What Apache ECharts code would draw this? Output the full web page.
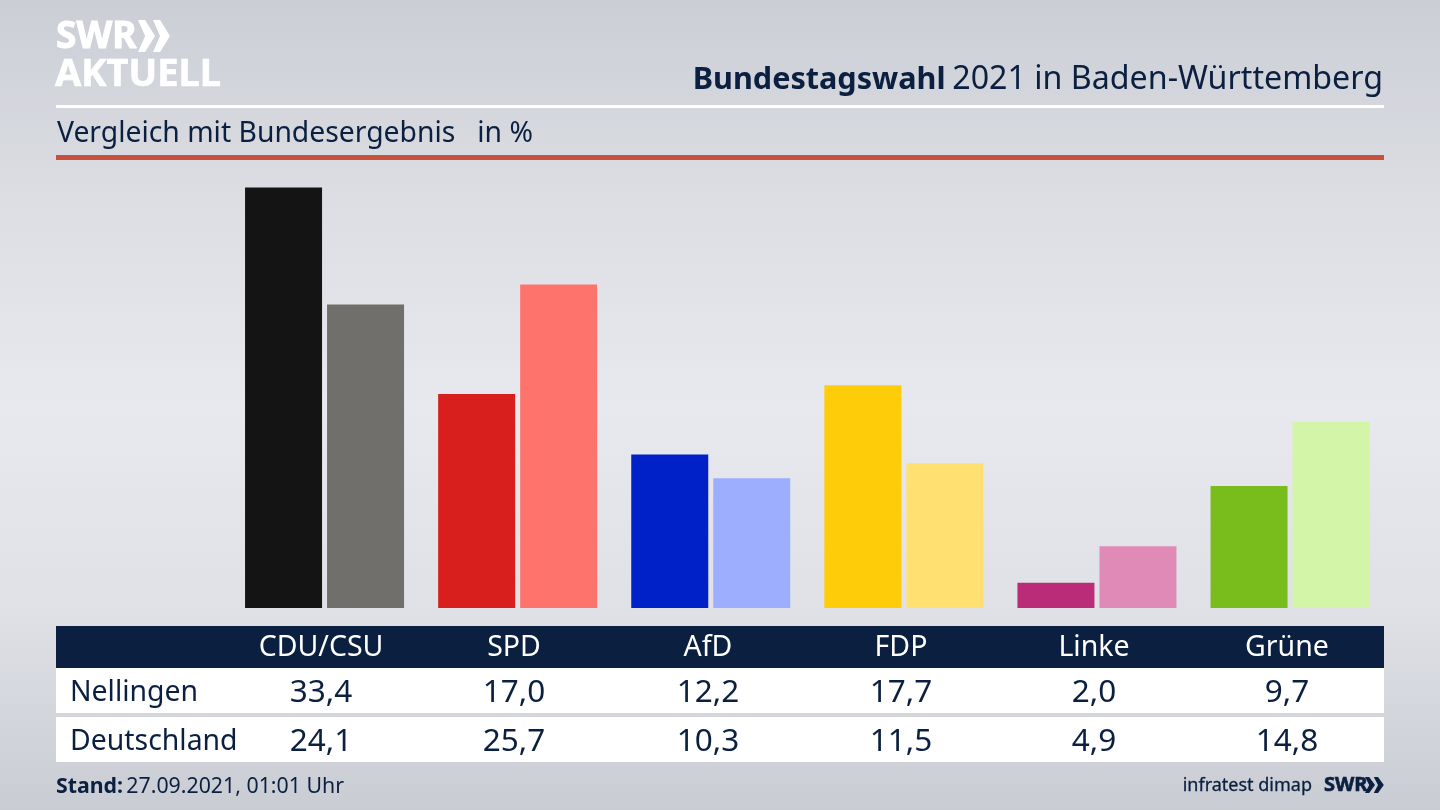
<!DOCTYPE html>
<html>
<head>
<meta charset="utf-8">
<style>html,body{margin:0;padding:0;background:#d8dae0}#main{width:1440px;height:810px}</style>
<script src="https://cdn.jsdelivr.net/npm/echarts@6/dist/echarts.min.js"></script>
</head>
<body>
<div id="main"></div>
<script>
const parties = ['CDU/CSU', 'SPD', 'AfD', 'FDP', 'Linke', 'Grüne'];
const nellingen = [33.4, 17.0, 12.2, 17.7, 2.0, 9.7];
const deutschland = [24.1, 25.7, 10.3, 11.5, 4.9, 14.8];
const rowNames = ['Nellingen', 'Deutschland'];
const darkColors = ['#141414', '#d81f1d', '#0020c8', '#ffcc0a', '#bb2c78', '#79bd1c'];
const lightColors = ['#706f6b', '#ff736d', '#9eaeff', '#ffe071', '#e08ab8', '#d2f5a8'];

const navy = '#0b2040';
const font = '"Noto Sans", sans-serif';
const colX = [321, 514, 708, 901, 1094, 1287];
const rowY = [693, 742];
const fmt = v => v.toFixed(1).replace('.', ',');

function txt(x, y, text, size, color, align, weight, stroke) {
  return {
    type: 'text', x: x, y: y, silent: true,
    style: { text: text, fontFamily: font, fontSize: size, fill: color, align: align || 'left',
      verticalAlign: 'middle', fontWeight: weight || 'normal',
      stroke: stroke ? color : null, lineWidth: stroke || 0 }
  };
}
function box(x, y, w, h, color) {
  return { type: 'rect', silent: true, shape: { x: x, y: y, width: w, height: h }, style: { fill: color } };
}
function chevrons(x, y, w, h, color) {
  // double arrow of the logo
  const one = dx => ({
    type: 'polygon', silent: true,
    shape: { points: [[x + dx, y], [x + dx + w * 0.42, y], [x + dx + w, y + h / 2], [x + dx + w * 0.42, y + h], [x + dx, y + h], [x + dx + w * 0.42, y + h / 2]] },
    style: { fill: color }
  });
  return [one(0), one(w * 0.88)];
}

var graphics = [
  box(56, 105, 1328, 3, '#ffffff'),
  box(56, 155, 1328, 5, '#c8503c'),
  box(56, 626, 1328, 42, navy),
  box(56, 668, 1328, 45, '#ffffff'),
  box(56, 717, 1328, 45, '#ffffff'),
  txt(56, 37, 'SWR', 37, '#ffffff', 'left', 'bold', 1),
  txt(55, 75.5, 'AKTUELL', 38, '#ffffff', 'left', 'bold', 0.6),
  ...chevrons(138, 20, 17, 32, '#ffffff'),
  {
    type: 'text', x: 1383, y: 80, silent: true,
    style: {
      text: '{b|Bundestagswahl}  {n|2021 in Baden-Württemberg}',
      align: 'right', verticalAlign: 'middle',
      rich: {
        b: { fontFamily: font, fontSize: 30.6, fontWeight: 'bold', fill: navy },
        n: { fontFamily: font, fontSize: 32.2, fill: navy }
      }
    }
  },
  txt(57, 134, 'Vergleich mit Bundesergebnis   in %', 28.3, navy),
  txt(70, rowY[0], rowNames[0], 28.4, navy),
  txt(70, rowY[1], rowNames[1], 28.4, navy),
  {
    type: 'text', x: 56, y: 787, silent: true,
    style: {
      text: '{b|Stand:} {n|27.09.2021, 01:01 Uhr}', verticalAlign: 'middle',
      rich: {
        b: { fontFamily: font, fontSize: 21.3, fontWeight: 'bold', fill: navy },
        n: { fontFamily: font, fontSize: 21.3, fill: navy }
      }
    }
  },
  txt(1312, 786, 'infratest dimap', 18, navy, 'right', 'normal', 0.3),
  txt(1324, 785, 'SWR', 20, navy, 'left', 'bold', 0.6),
  ...chevrons(1365, 777, 10, 16, navy)
];
parties.forEach((p, i) => {
  graphics.push(txt(colX[i], 648, p, 28.5, '#ffffff', 'center'));
  graphics.push(txt(colX[i], rowY[0], fmt(nellingen[i]), 31.5, navy, 'center'));
  graphics.push(txt(colX[i], rowY[1], fmt(deutschland[i]), 31.5, navy, 'center'));
});

var myChart = echarts.init(document.getElementById('main'));
var option = {
  animation: false,
  backgroundColor: {
    type: 'linear', x: 0, y: 0, x2: 0, y2: 1,
    colorStops: [
      { offset: 0, color: '#cbced5' },
      { offset: 0.25, color: '#dcdee3' },
      { offset: 0.5, color: '#e8e9ee' },
      { offset: 0.75, color: '#dfe1e6' },
      { offset: 1, color: '#c9ccd3' }
    ]
  },
  grid: { left: 228, width: 1158.6, top: 167.4, height: 440.6 },
  xAxis: {
    type: 'category', data: parties,
    axisLine: { show: false }, axisTick: { show: false }, axisLabel: { show: false }
  },
  yAxis: { type: 'value', min: 0, max: 35, show: false, splitLine: { show: false } },
  series: [
    {
      type: 'bar', name: rowNames[0], data: nellingen, barWidth: 77, barGap: '6.5%',
      itemStyle: { color: p => darkColors[p.dataIndex] }
    },
    {
      type: 'bar', name: rowNames[1], data: deutschland, barWidth: 77,
      itemStyle: { color: p => lightColors[p.dataIndex] }
    }
  ],
  graphic: graphics
};
option && myChart.setOption(option);
</script>
</body>
</html>
